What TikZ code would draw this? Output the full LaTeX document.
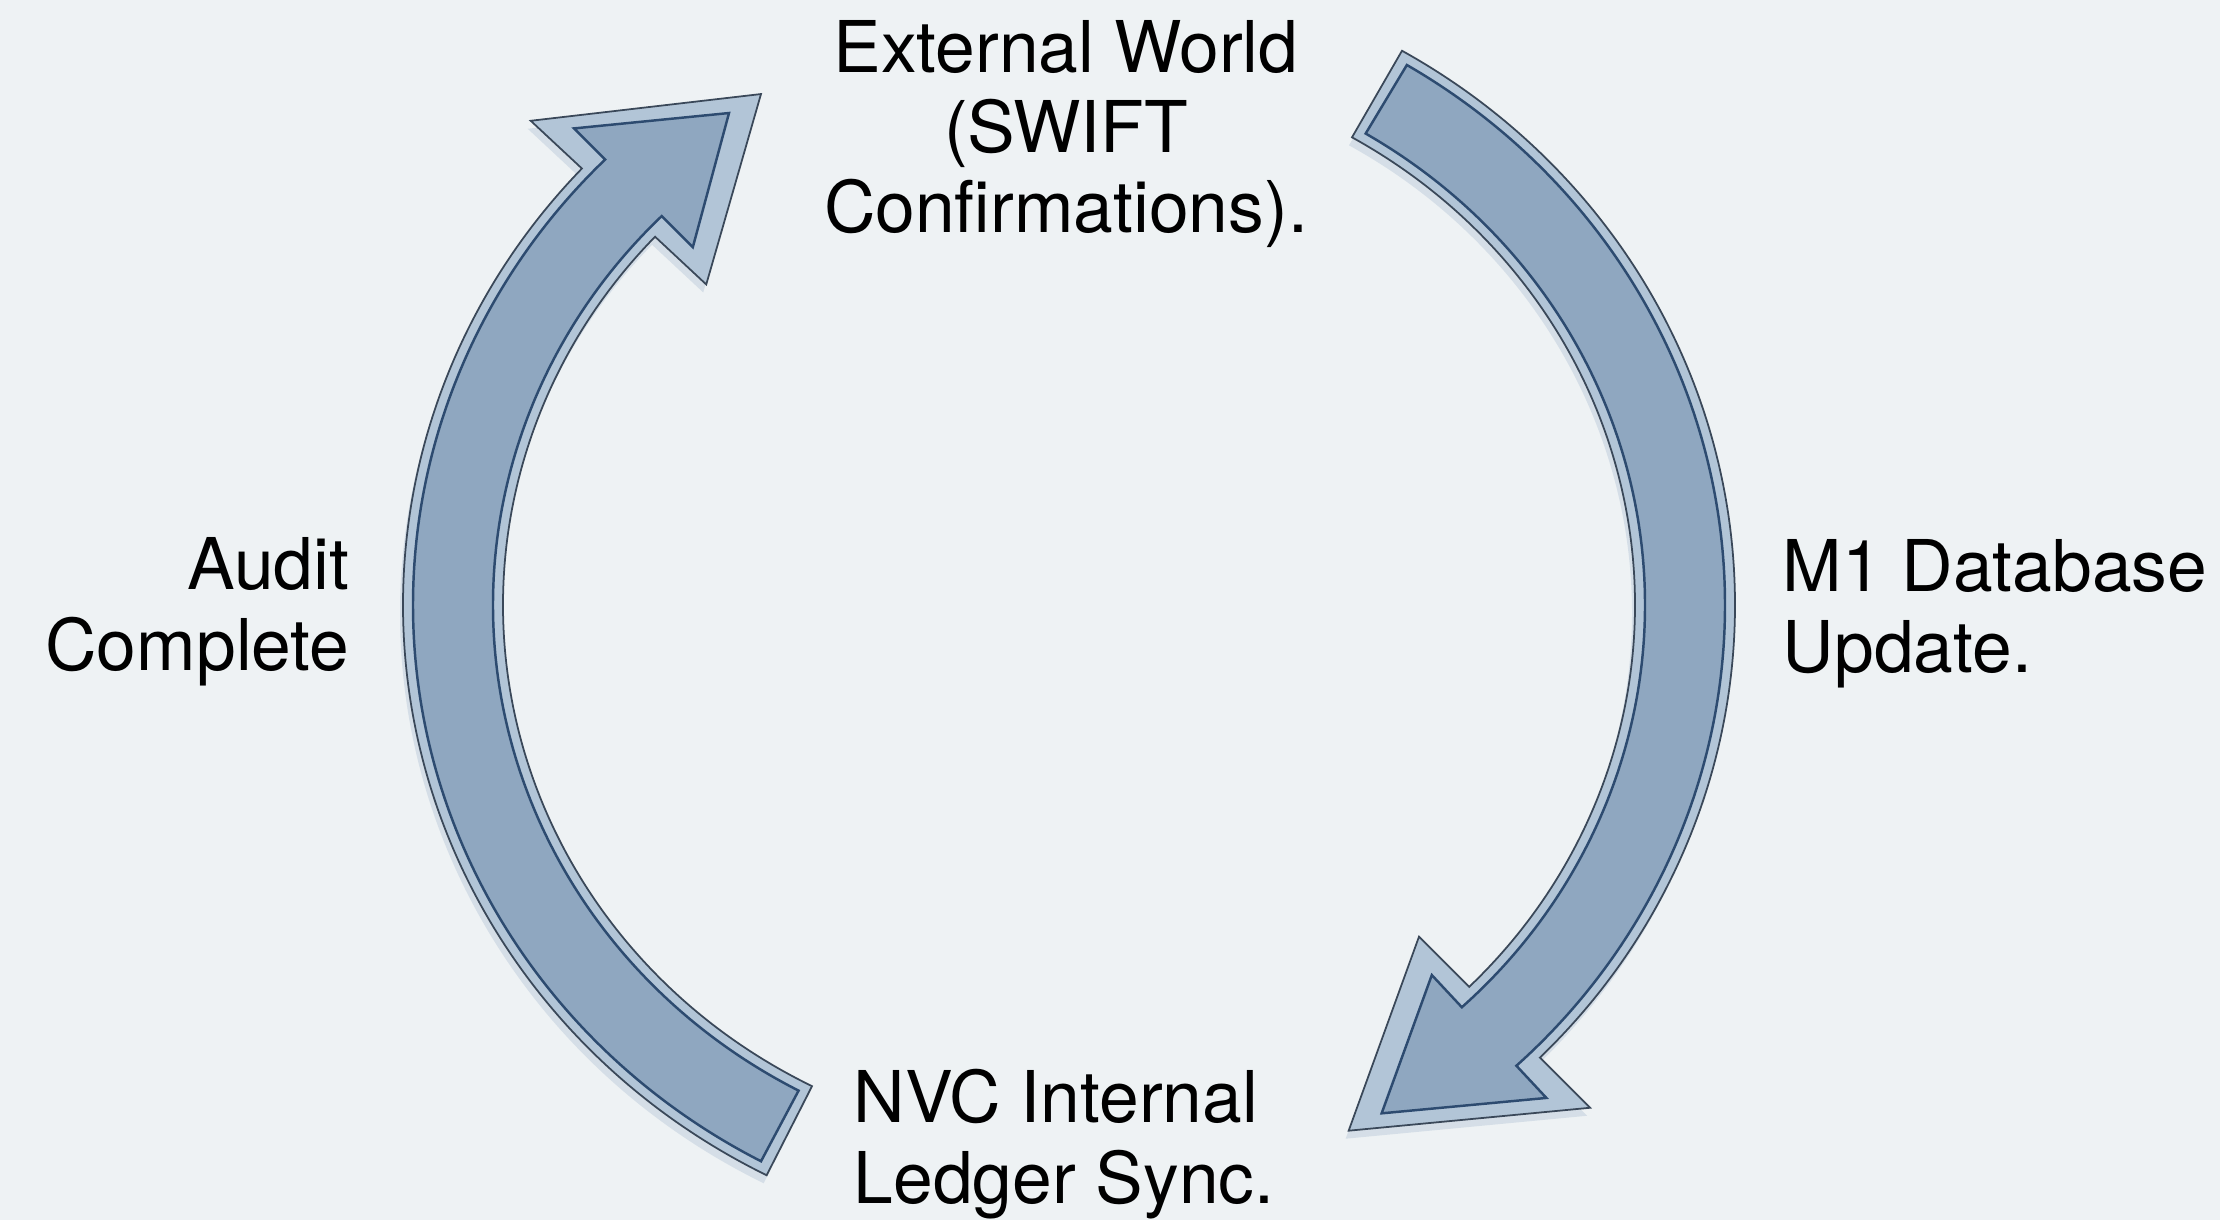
\documentclass[tikz,border=0pt]{standalone}
\usepackage{fontspec}
\setmainfont{TeX Gyre Heros}
\usetikzlibrary{calc,positioning}

\definecolor{bgpaper}{HTML}{EEF2F4}
\definecolor{arrowlight}{HTML}{B2C5D7}
\definecolor{arrowmid}{HTML}{8FA7C0}
\definecolor{arrowedge}{HTML}{3A4859}
\definecolor{arrowline}{HTML}{2D4B70}
\definecolor{arrowshade}{HTML}{9CB2C9}

% centre line of the ring
\newcommand{\ringa}{616}
\newcommand{\ringb}{590}
% #1 style, #2 tail angle, #3 neck angle, #4 tip angle, #5 half shaft, #6 half head
\newcommand{\cyclearrow}[6]{%
  \pgfmathsetmacro\shoa{\ringa+#5}\pgfmathsetmacro\shob{\ringb+#5}%
  \pgfmathsetmacro\shia{\ringa-#5}\pgfmathsetmacro\shib{\ringb-#5}%
  \pgfmathsetmacro\hdoa{\ringa+#6}\pgfmathsetmacro\hdob{\ringb+#6}%
  \pgfmathsetmacro\hdia{\ringa-#6}\pgfmathsetmacro\hdib{\ringb-#6}%
  \path[#1] (xyz polar cs:angle=#2,x radius=\shoa,y radius=\shob)
    arc[start angle=#2,end angle=#3,x radius=\shoa,y radius=\shob]
    -- (xyz polar cs:angle=#3,x radius=\hdoa,y radius=\hdob)
    -- (xyz polar cs:angle=#4,x radius=\ringa,y radius=\ringb)
    -- (xyz polar cs:angle=#3,x radius=\hdia,y radius=\hdib)
    -- (xyz polar cs:angle=#3,x radius=\shia,y radius=\shib)
    arc[start angle=#3,end angle=#2,x radius=\shia,y radius=\shib]
    -- cycle;}

\tikzset{
  steplabel/.style={font=\fontsize{20.3}{22.8}\selectfont,inner sep=0pt,text=black},
  ringshadow/.style={fill=arrowshade,opacity=.3,shift={(-3,-8)}},
  ringouter/.style={fill=arrowlight,draw=arrowedge,line width=.5pt,line join=miter},
  ringinner/.style={fill=arrowmid,draw=arrowline,line width=.7pt,line join=miter}
}

\begin{document}
\begin{tikzpicture}[x=0.01cm,y=0.01cm]
    \fill[bgpaper] (0,0) rectangle (2220,1220);
    \useasboundingbox (0,0) rectangle (2220,1220);

    \begin{scope}[shift={(1069,615)}]
      % right arrow: top down to bottom
      \cyclearrow{ringshadow}{60}{-45}{-63}{50}{121}
      \cyclearrow{ringouter}{60}{-45}{-63}{50}{121}
      \cyclearrow{ringinner}{59}{-47}{-59.5}{40}{84}
      % left arrow: bottom up to top
      \cyclearrow{ringshadow}{243}{137}{120}{50}{120}
      \cyclearrow{ringouter}{243}{137}{120}{50}{120}
      \cyclearrow{ringinner}{242}{135}{123.5}{40}{84}
    \end{scope}

    \node[steplabel,align=center,anchor=base] (extworld) at (1066,987) {External World\\(SWIFT\\Confirmations).};
    \node[steplabel,align=left,anchor=base west] (m1update) at (1782,548) {M1 Database\\Update.};
    \node[steplabel,align=left,anchor=base west] (ledger) at (853,17) {NVC Internal\\Ledger Sync.};
    \node[steplabel,align=right,anchor=base east] (audit) at (350,550) {Audit\\Complete};
\end{tikzpicture}
\end{document}
